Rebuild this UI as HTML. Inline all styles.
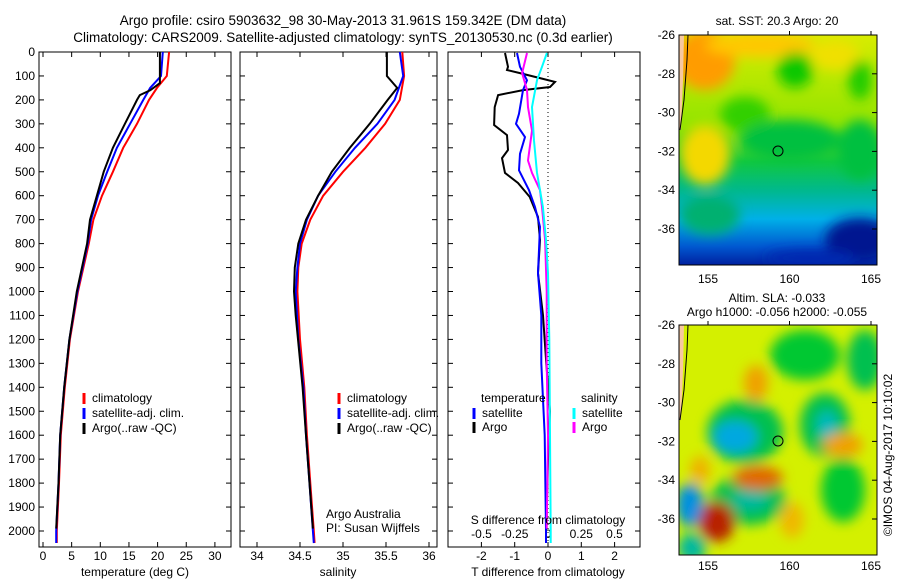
<!DOCTYPE html>
<html><head><meta charset="utf-8">
<style>
body{margin:0;background:#fff;}
svg text{font-family:"Liberation Sans",sans-serif;font-size:12px;fill:#000;}
</style></head>
<body>
<svg id="fig" width="900" height="580" viewBox="0 0 900 580" xmlns="http://www.w3.org/2000/svg">
<rect width="900" height="580" fill="#fff"/>
<text x="343" y="25" text-anchor="middle" style="font-size:13.5px">Argo profile: csiro 5903632_98 30-May-2013 31.961S 159.342E (DM data)</text>
<text x="343" y="42" text-anchor="middle" style="font-size:13.5px">Climatology: CARS2009. Satellite-adjusted climatology: synTS_20130530.nc (0.3d earlier)</text>
<g id="p1"></g>
<g id="p2"></g>
<g id="p3"></g>
<g id="maps">
<defs>
<filter id="bl" x="-50%" y="-50%" width="200%" height="200%"><feGaussianBlur stdDeviation="6"/></filter>
<clipPath id="c1"><rect x="679" y="35" width="198" height="230"/></clipPath>
<clipPath id="c2"><rect x="679" y="325" width="198" height="230"/></clipPath>
<linearGradient id="sstg" x1="0" y1="0" x2="0" y2="1">
<stop offset="0" stop-color="#d8ec00"/><stop offset="0.4" stop-color="#90e400"/><stop offset="0.55" stop-color="#10c840"/><stop offset="0.68" stop-color="#00b890"/><stop offset="0.8" stop-color="#00b0e8"/><stop offset="0.92" stop-color="#0058d0"/><stop offset="1" stop-color="#0020a0"/></linearGradient>
</defs>
<g clip-path="url(#c1)">
<rect x="679" y="35" width="198" height="230" fill="url(#sstg)"/>
<g filter="url(#bl)">
<ellipse cx="705" cy="60" rx="30" ry="30" fill="#ff9c00"/>
<ellipse cx="705" cy="155" rx="25" ry="30" fill="#f4d800"/>
<ellipse cx="760" cy="45" rx="55" ry="12" fill="#ffc800"/>
<ellipse cx="745" cy="115" rx="25" ry="18" fill="#30d000"/>
<ellipse cx="795" cy="70" rx="18" ry="18" fill="#10c800"/>
<ellipse cx="835" cy="55" rx="25" ry="15" fill="#f0e000"/>
<ellipse cx="860" cy="80" rx="12" ry="20" fill="#20cc00"/>
<ellipse cx="790" cy="140" rx="50" ry="20" fill="#00c040"/>
<ellipse cx="860" cy="150" rx="22" ry="30" fill="#00c040"/>
<ellipse cx="710" cy="215" rx="30" ry="20" fill="#00b070"/>
<ellipse cx="860" cy="240" rx="35" ry="22" fill="#001890"/>
<ellipse cx="810" cy="258" rx="45" ry="8" fill="#0028b0"/>
</g>
<polygon points="679,35 684,35 683,80 681,130 679,130" fill="#f8c8a0"/>
<polyline points="688,35 687,60 684,100 680,130" fill="none" stroke="#000"/>
<circle cx="778" cy="151" r="5" fill="none" stroke="#000"/>
</g>
<rect x="679" y="35" width="198" height="230" fill="none" stroke="#000"/>
<g clip-path="url(#c2)">
<rect x="679" y="325" width="198" height="230" fill="#d4f000"/>
<g filter="url(#bl)">
<ellipse cx="745" cy="432" rx="38" ry="32" fill="#00c050"/>
<ellipse cx="735" cy="437" rx="22" ry="16" fill="#00a8e0"/>
<ellipse cx="805" cy="355" rx="35" ry="25" fill="#00c830"/>
<ellipse cx="825" cy="425" rx="25" ry="32" fill="#00c050"/>
<ellipse cx="827" cy="425" rx="10" ry="14" fill="#00b8c0"/>
<ellipse cx="748" cy="500" rx="38" ry="25" fill="#00c050"/>
<ellipse cx="750" cy="500" rx="18" ry="10" fill="#00b8a0"/>
<ellipse cx="843" cy="490" rx="22" ry="32" fill="#00c830"/>
<ellipse cx="865" cy="360" rx="18" ry="30" fill="#00c050"/>
<ellipse cx="690" cy="505" rx="14" ry="22" fill="#0090e0"/>
<ellipse cx="692" cy="548" rx="14" ry="15" fill="#00b8a0"/>
<ellipse cx="717" cy="522" rx="18" ry="20" fill="#b82000"/>
<ellipse cx="758" cy="478" rx="25" ry="12" fill="#e06800"/>
<ellipse cx="756" cy="383" rx="12" ry="18" fill="#f0a000"/>
<ellipse cx="843" cy="445" rx="20" ry="12" fill="#f0a000"/>
<ellipse cx="792" cy="520" rx="12" ry="18" fill="#f0b800"/>
<ellipse cx="700" cy="470" rx="10" ry="14" fill="#f0b000"/>
</g>
<polygon points="679,325 684,325 683,370 681,420 679,420" fill="#f8c8a0"/>
<polyline points="688,325 687,350 684,390 680,420" fill="none" stroke="#000"/>
<circle cx="778" cy="441" r="5" fill="none" stroke="#000"/>
</g>
<rect x="679" y="325" width="198" height="230" fill="none" stroke="#000"/>
</g>
<text x="777" y="25" text-anchor="middle">sat. SST: 20.3 Argo: 20</text>
<text x="777" y="302" text-anchor="middle">Altim. SLA: -0.033</text>
<text x="777" y="316" text-anchor="middle">Argo h1000: -0.056 h2000: -0.055</text>
<text transform="translate(892,455) rotate(-90)" text-anchor="middle">©IMOS 04-Aug-2017 10:10:02</text>
</svg>
<script>
const NS="http://www.w3.org/2000/svg";
const depths=[0,100,150,200,300,400,500,600,700,800,1000,1200,1400,1600,1800,2000,2050];
const tempClim=[22.0,21.6,19.9,18.5,16.4,14.0,12.2,10.3,8.8,8.0,6.1,4.7,3.8,3.1,2.8,2.4,2.4];
const tempSat=[20.9,20.6,18.7,17.5,15.2,12.9,11.2,9.6,8.4,7.8,6.0,4.6,3.7,3.0,2.7,2.3,2.3];
const argoDepths=[0,130,160,180,200,300,400,500,600,700,800,1000,1200,1400,1600,1800,1990];
const tempArgo=[20.4,20.4,18.7,16.9,16.4,14.3,12.2,10.6,9.4,8.2,7.7,5.9,4.6,3.7,3.0,2.7,2.3];
const salDepths=[0,100,200,300,400,500,600,700,800,900,1000,1200,1400,1600,1800,2000,2050];
const salClim=[35.69,35.71,35.66,35.49,35.26,35.0,34.77,34.62,34.52,34.48,34.47,34.5,34.55,34.58,34.62,34.66,34.67];
const salSat=[35.66,35.70,35.60,35.40,35.14,34.91,34.71,34.58,34.50,34.47,34.45,34.48,34.54,34.57,34.61,34.65,34.66];
const salArgoDepths=[0,100,150,200,300,400,500,600,700,800,900,1000,1100,1400,1600,1800,1990];
const salArgo=[35.51,35.51,35.63,35.52,35.31,35.08,34.87,34.71,34.57,34.48,34.44,34.43,34.45,34.53,34.57,34.61,34.65];
const dTdepths=[4,62,75,88,109,125,146,159,180,230,305,347,409,443,505,547,605,689,785,923,1100,1300,1500,1700,1990];
const dTargo=[-1.29,-1.2,-1.23,-0.84,-0.24,0.21,0.06,-0.75,-1.5,-1.6,-1.62,-1.23,-1.2,-1.38,-1.29,-0.9,-0.55,-0.3,-0.24,-0.3,-0.15,-0.05,0.06,0.0,-0.05];
const dTsatDepths=[4,62,118,159,258,300,355,425,494,577,647,730,923,1100,1300,1600,2000,2050];
const dTsat=[-0.93,-0.84,-0.63,-0.75,-0.87,-0.96,-0.69,-0.84,-0.87,-0.57,-0.39,-0.24,-0.3,-0.2,-0.2,-0.1,-0.06,-0.06];
const dSargoDepths=[4,88,159,230,328,453,505,577,647,785,1000,1300,1600,1990];
const dSargo=[-0.158,-0.195,-0.158,-0.15,-0.12,-0.15,-0.12,-0.06,-0.045,-0.022,-0.01,-0.01,0.0,-0.01];
const dSsatDepths=[4,62,118,230,370,505,577,647,785,923,1200,1600,2000,2050];
const dSsat=[-0.008,-0.045,-0.083,-0.12,-0.105,-0.083,-0.06,-0.038,-0.015,0.0,0.01,0.015,0.02,0.02];
const depthTicks=[0,100,200,300,400,500,600,700,800,900,1000,1100,1200,1300,1400,1500,1600,1700,1800,1900,2000];
const tempTicks=[0,5,10,15,20,25,30];
const salTicks=[34,34.5,35,35.5,36];
const dTticks=[-2,-1,0,1,2];
const dSticks=[-0.5,-0.25,0,0.25,0.5];
const mapLatTicks=[-26,-28,-30,-32,-34,-36];
const mapLonTicks=[155,160,165];

const Y=d=>52+d*0.2395;
function el(parent,tag,attrs,txt){const e=document.createElementNS(NS,tag);for(const k in attrs)e.setAttribute(k,attrs[k]);if(txt!==undefined)e.textContent=txt;parent.appendChild(e);return e;}
function frame(g,x0,x1,withDepthLabels){
  const r=el(g,'rect',{x:x0,y:52,width:x1-x0,height:495,fill:'none',stroke:'#000'});
  
  
  depthTicks.forEach(d=>{
    el(g,'line',{x1:x0,x2:x0+5,y1:Y(d),y2:Y(d),stroke:'#000'});
    el(g,'line',{x1:x1,x2:x1-5,y1:Y(d),y2:Y(d),stroke:'#000'});
    if(withDepthLabels){const t=el(g,'text',{x:x0-4,y:Y(d)+4,'text-anchor':'end'},String(d));
      
      }
  });
}
function xticks(g,vals,X,labels,ly){
  vals.forEach((v,i)=>{
    el(g,'line',{x1:X(v),x2:X(v),y1:547,y2:542,stroke:'#000'});
    el(g,'line',{x1:X(v),x2:X(v),y1:52,y2:57,stroke:'#000'});
    const t=el(g,'text',{x:X(v),y:ly,'text-anchor':'middle'},labels?labels[i]:String(v));
    
    
  });
}
function line(g,xs,ds,X,color,name,w){
  const pts=xs.map((v,i)=>X(v).toFixed(1)+','+Y(ds[i]).toFixed(1)).join(' ');
  const p=el(g,'polyline',{points:pts,fill:'none',stroke:color,'stroke-width':w||2});
  
  
}
function legend(g,x,y,color,label){
  el(g,'line',{x1:x,x2:x,y1:y-9,y2:y+2,stroke:color,'stroke-width':3});
  const t=el(g,'text',{x:x+8,y:y},label);
  
  
}
const p1=document.getElementById('p1');
const XT=v=>43+v*5.73;
frame(p1,39,231,true);
xticks(p1,tempTicks,XT,null,560);
line(p1,tempClim,depths,XT,'#f00','temp-climatology-line');
line(p1,tempSat,depths,XT,'#00f','temp-satellite-line');
line(p1,tempArgo,argoDepths,XT,'#000','temp-argo-line');
legend(p1,84,402,'#f00','climatology');
legend(p1,84,417,'#00f','satellite-adj. clim.');
legend(p1,84,432,'#000','Argo(..raw -QC)');
let t=el(p1,'text',{x:135,y:576,'text-anchor':'middle'},'temperature (deg C)');


const p2=document.getElementById('p2');
const XS=v=>257+(v-34)*86;
frame(p2,240,437,false);
xticks(p2,salTicks,XS,null,560);
line(p2,salClim,salDepths,XS,'#f00','sal-climatology-line');
line(p2,salSat,salDepths,XS,'#00f','sal-satellite-line');
line(p2,salArgo,salArgoDepths,XS,'#000','sal-argo-line');
legend(p2,339,402,'#f00','climatology');
legend(p2,339,417,'#00f','satellite-adj. clim.');
legend(p2,339,432,'#000','Argo(..raw -QC)');
t=el(p2,'text',{x:326,y:518},'Argo Australia');


t=el(p2,'text',{x:326,y:532},'PI: Susan Wijffels');


t=el(p2,'text',{x:338,y:576,'text-anchor':'middle'},'salinity');


const p3=document.getElementById('p3');
const XD=v=>548+v*33.3;
const XDS=v=>548+v*133;
frame(p3,448,640,false);
el(p3,'line',{x1:548,x2:548,y1:52,y2:547,stroke:'#000','stroke-dasharray':'1,3'});
dTticks.forEach(v=>{el(p3,'line',{x1:XD(v),x2:XD(v),y1:547,y2:542,stroke:'#000'});el(p3,'line',{x1:XD(v),x2:XD(v),y1:52,y2:57,stroke:'#000'});
  const tt=el(p3,'text',{x:XD(v),y:560,'text-anchor':'middle'},String(v));
  
  });
dSticks.forEach(v=>{const tt=el(p3,'text',{x:XDS(v),y:538,'text-anchor':'middle'},String(v));
  
  });
line(p3,dTargo,dTdepths,XD,'#000','t-diff-argo-line');
line(p3,dTsat,dTsatDepths,XD,'#00f','t-diff-satellite-line');
line(p3,dSargo,dSargoDepths,XDS,'#f0f','s-diff-argo-line');
line(p3,dSsat,dSsatDepths,XDS,'#0ff','s-diff-satellite-line');
t=el(p3,'text',{x:481,y:402},'temperature');


t=el(p3,'text',{x:581,y:402},'salinity');


legend(p3,474,417,'#00f','satellite');
legend(p3,474,431,'#000','Argo');
legend(p3,574,417,'#0ff','satellite');
legend(p3,574,431,'#f0f','Argo');
t=el(p3,'text',{x:548,y:524,'text-anchor':'middle'},'S difference from climatology');


t=el(p3,'text',{x:548,y:576,'text-anchor':'middle'},'T difference from climatology');


const maps=document.getElementById('maps');
[[35,283],[325,570]].forEach(([top,ly])=>{
  mapLatTicks.forEach(v=>{const y=top+(-26-v)*19.4;
    el(maps,'line',{x1:877,x2:872,y1:y,y2:y,stroke:'#000'});
    const tt=el(maps,'text',{x:675,y:y+4,'text-anchor':'end'},String(v));
    
    });
  mapLonTicks.forEach(v=>{const x=708+(v-155)*16.3;
    el(maps,'line',{x1:x,x2:x,y1:top,y2:top-4,stroke:'#000'});
    const tt=el(maps,'text',{x:x,y:ly,'text-anchor':'middle'},String(v));
    
    });
});
</script>
</body></html>
